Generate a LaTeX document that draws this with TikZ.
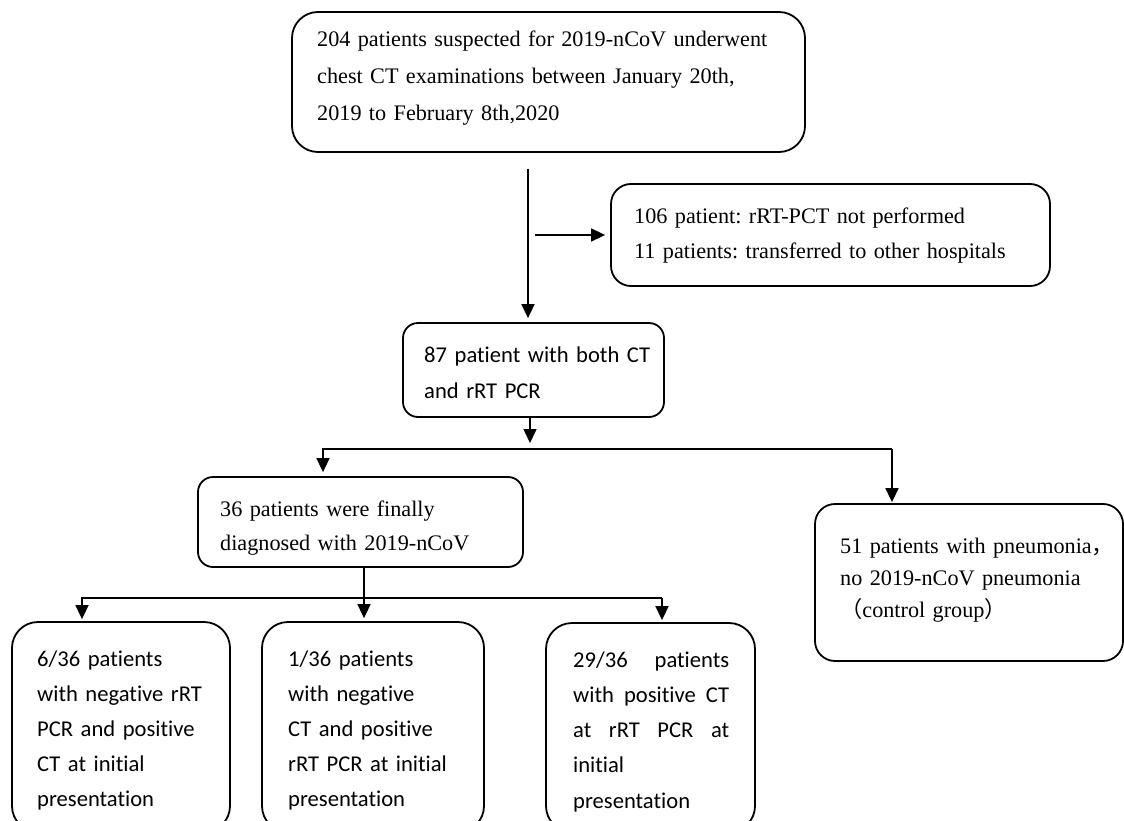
\documentclass[tikz,border=0pt]{standalone}
\usepackage{fontspec}
\setmainfont{Liberation Serif}
\newfontfamily\calfont[RawFeature=-liga]{Carlito}
\newfontfamily\cjk{Noto Sans CJK SC}
\usetikzlibrary{arrows.meta}
\frenchspacing
\begin{document}
\begin{tikzpicture}[x=1pt,y=-1pt,
  box/.style={draw=black, line width=1.8pt, rounded corners=#1, inner sep=0pt},
  box/.default=15pt,
  tms/.style={font=\frenchspacing\fontsize{22.2pt}{#1}\selectfont, anchor=base west, inner sep=0pt, align=left, text width=480pt},
  cal/.style={font=\frenchspacing\calfont\fontsize{22.6pt}{#1}\selectfont, anchor=base west, inner sep=0pt, align=left, text width=240pt},
  arr/.style={line width=1.6pt, -{Triangle[width=13pt,length=14pt]}, shorten >=2pt},
  ln/.style={line width=1.6pt}]
\useasboundingbox (0,0) rectangle (1124,821);
\clip (0,0) rectangle (1124,821);
% boxes
\node[box=26pt, minimum width=513pt, minimum height=140pt] (top) at (548.5,82) {};
\node[box=20pt, minimum width=439pt, minimum height=102pt] (side) at (830.5,235) {};
\node[box=15pt, minimum width=261pt, minimum height=94pt] (n87) at (533.5,370) {};
\node[box=15pt, minimum width=325pt, minimum height=90pt] (n36) at (360.5,522) {};
\node[box=20pt, minimum width=308pt, minimum height=157pt] (n51) at (969,582.5) {};
\node[box=26pt, minimum width=218pt, minimum height=210pt] (nA) at (121,727) {};
\node[box=26pt, minimum width=222pt, minimum height=210pt] (nB) at (373,727) {};
\node[box=26pt, minimum width=209pt, minimum height=209pt] (nC) at (650.5,727.5) {};
% texts
\node[tms=37pt] (ttop) at (317,47) {204 patients suspected for 2019-nCoV underwent\\chest CT examinations between January 20th,\\2019 to February 8th,2020};
\node[tms=35pt] (tside) at (634,223) {106 patient: rRT-PCT not performed\\11 patients: transferred to other hospitals};
\node[cal=36pt] (t87) at (424,362) {87 patient with both CT\\and rRT PCR};
\node[tms=34pt] (t36) at (220,516) {36 patients were finally\\diagnosed with 2019-nCoV};
\node[tms=32pt] (t51) at (840,553) {51 patients with pneumonia{\cjk ，}\\no 2019-nCoV pneumonia\\{\cjk （}control group{\cjk ）}};
\node[cal=35pt] (tA) at (37,666) {6/36 patients\\with negative rRT\\PCR and positive\\CT at initial\\presentation};
\node[cal=35pt] (tB) at (288,666) {1/36 patients\\with negative\\CT and positive\\rRT PCR at initial\\presentation};
\node[cal=35.3pt, text width=156pt] (tC) at (573,667) {29/36\hfill patients\\with\hfill positive\hfill CT\\at\hfill rRT\hfill PCR\hfill at\\initial\\presentation};
% connectors
\coordinate (j1) at (528,169);
\draw[arr, shorten >=4pt] (j1) -- (j1 |- n87.north);
\coordinate (j2) at (535,235);
\draw[arr, shorten >=5pt] (j2) -- (side.west);
\coordinate (h1) at (530,443);
\draw[arr, shorten >=0pt] (h1 |- n87.south) -- (h1);
\coordinate (hl) at (323,449);
\coordinate (hr) at (892,449);
\draw[arr, shorten >=4pt] (hr) -- (hl) -- (hl |- n36.north);
\draw[arr, shorten >=1pt] (hr) -- (hr |- n51.north);
\coordinate (v2) at (364,598);
\coordinate (bl) at (82,598);
\coordinate (br) at (662,598);
\draw[arr, shorten >=3pt] (v2 |- n36.south) -- (v2 |- nB.north);
\draw[arr] (br) -- (bl) -- (bl |- nA.north);
\draw[arr] (br) -- (br |- nC.north);
\end{tikzpicture}
\end{document}
